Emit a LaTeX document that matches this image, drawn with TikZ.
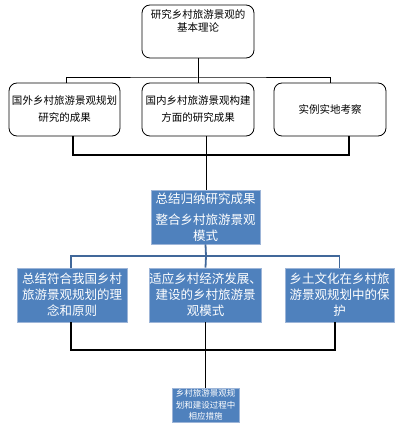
\documentclass[tikz,border=0pt]{standalone}
\usepackage{fontspec}
\setmainfont{Noto Sans CJK SC}
\definecolor{ofblue}{HTML}{4F81BD}
\definecolor{ofedge}{HTML}{9DB5D8}
\definecolor{lineblue}{HTML}{41689A}
\tikzset{
  wbox/.style={draw=black, line width=0.8pt, rounded corners=8pt, fill=white,
    minimum height=53pt, inner sep=0pt, align=center,
    font=\fontsize{10.5}{17}\selectfont},
  bbox/.style={fill=ofblue, draw=ofedge, line width=0.6pt, text=white,
    minimum height=54pt, inner sep=0pt, align=center,
    font=\fontsize{12.5}{16}\selectfont},
  sbox/.style={fill=ofblue, draw=ofedge, line width=0.6pt, text=white,
    minimum width=67pt, minimum height=34pt, inner sep=0pt, align=center,
    font=\fontsize{8.5}{11.5}\selectfont},
  blk/.style={draw=black, line width=1pt},
  blkb/.style={draw=black, line width=1.3pt},
  blu/.style={draw=lineblue, line width=1.8pt},
}
\begin{document}
\begin{tikzpicture}[x=1pt,y=-1pt]
\useasboundingbox[fill=white] (0,0) rectangle (405,430);
% top level
\node[wbox, minimum width=112pt] (t0) at (198,31.5) {};
\node[anchor=north, inner sep=0pt, align=center, font=\fontsize{10.5}{13}\selectfont] (t0txt) at (198,9.5) {研究乡村旅游景观的\\基本理论};
\node[wbox, minimum width=111pt] (a1) at (64.5,109.5) {国外乡村旅游景观规划\\研究的成果};
\node[wbox, minimum width=112pt] (a2) at (198,109.5) {国内乡村旅游景观构建\\方面的研究成果};
\node[wbox, minimum width=112pt] (a3) at (330,109.5) {实例实地考察};
\coordinate (j1) at (198,78);
\draw[blk] (t0.south) -- (j1);
\draw[blk] ([xshift=1.5pt]a1.north) |- (j1) -| (a3.north);
\draw[blk] (j1) -- (a2.north);
% summary box
\node[bbox, minimum width=109pt] (b0) at (205.5,217) {总结归纳研究成果\\[5pt]整合乡村旅游景观\\模式};
\coordinate (j2) at (206,155);
\draw[blkb] ([xshift=8.5pt]a1.south) |- (j2) -| ([xshift=19pt]a3.south);
\draw[blk] ([xshift=8pt]a2.south) -- (b0.north -| j2);
% second level
\node[bbox, minimum width=110pt] (c1) at (72,295) {总结符合我国乡村\\旅游景观规划的理\\念和原则};
\node[bbox, minimum width=109pt] (c2) at (205.5,295) {适应乡村经济发展、\\建设的乡村旅游景\\观模式};
\node[bbox, minimum width=109pt] (c3) at (339.5,295) {乡土文化在乡村旅\\游景观规划中的保\\护};
\coordinate (j3) at (206,256);
\draw[blu] (b0.south) -- (j3);
\draw[blu] ([xshift=-1pt]c1.north) |- (j3) -| (c3.north);
\draw[blu] (j3) -- (c2.north);
% final box
\node[sbox] (d0) at (205.5,405) {乡村旅游景观规\\划和建设过程中\\相应措施};
\coordinate (j4) at (206,350);
\draw[blkb] ([xshift=-1pt]c1.south) |- (j4) -| ([xshift=-4.5pt]c3.south);
\draw[blk] (c2.south) -- (d0.north);
\end{tikzpicture}
\end{document}
